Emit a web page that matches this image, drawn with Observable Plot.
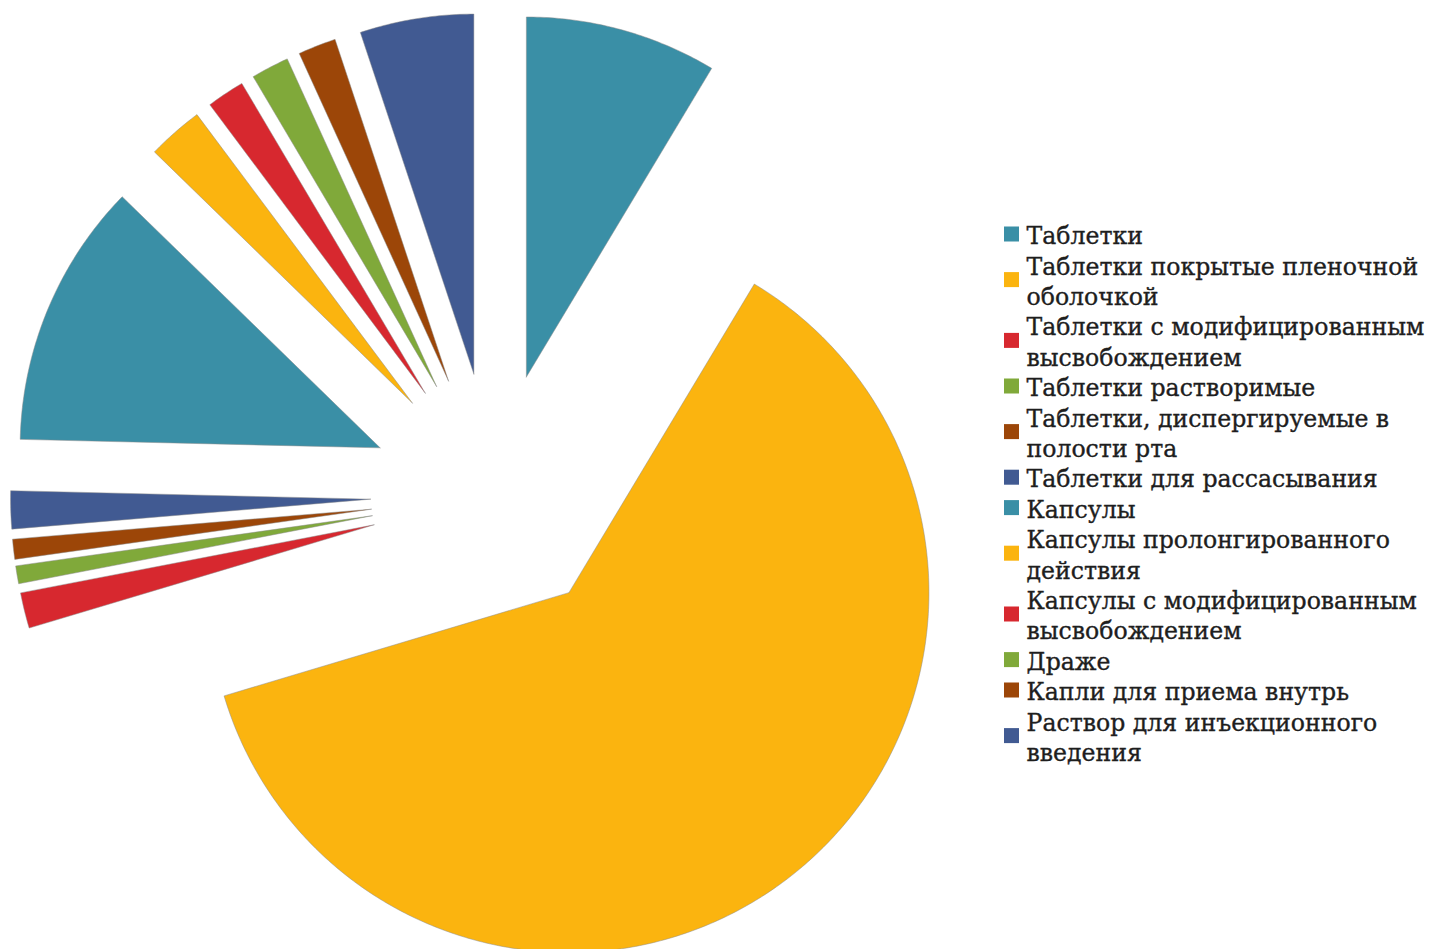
<!DOCTYPE html>
<html><head><meta charset="utf-8">
<script src="https://cdn.jsdelivr.net/npm/d3@7"></script>
<script src="https://cdn.jsdelivr.net/npm/@observablehq/plot@0.6"></script>
<style>body{margin:0;background:#fff}</style>
</head><body><div id="chart"></div>
<script>
const categories = [
  "Таблетки",
  "Таблетки покрытые пленочной оболочкой",
  "Таблетки с модифицированным высвобождением",
  "Таблетки растворимые",
  "Таблетки, диспергируемые в полости рта",
  "Таблетки для рассасывания",
  "Капсулы",
  "Капсулы пролонгированного действия",
  "Капсулы с модифицированным высвобождением",
  "Драже",
  "Капли для приема внутрь",
  "Раствор для инъекционного введения"
];
const legendLabels = [
  "Таблетки",
  "Таблетки покрытые пленочной\nоболочкой",
  "Таблетки с модифицированным\nвысвобождением",
  "Таблетки растворимые",
  "Таблетки, диспергируемые в\nполости рта",
  "Таблетки для рассасывания",
  "Капсулы",
  "Капсулы пролонгированного\nдействия",
  "Капсулы с модифицированным\nвысвобождением",
  "Драже",
  "Капли для приема внутрь",
  "Раствор для инъекционного\nвведения"
];
const values = [8.6, 61.7, 1.6, 0.8, 0.9, 1.7, 11.9, 2.5, 1.7, 1.7, 1.7, 5.1];
const colors = ["#3a8fa6", "#fbb40f", "#d7282f", "#80a93a", "#9c4608", "#415a92",
                "#3a8fa6", "#fbb40f", "#d7282f", "#80a93a", "#9c4608", "#415a92"];

const W = 1435, H = 949;
const cx = 493, cy = 495, R = 360, explode = 123;

const arcs = d3.pie().sort(null).value(d => d)(values);
const pts = [];
arcs.forEach((a, i) => {
  const m = (a.startAngle + a.endAngle) / 2;
  const tx = cx + explode * Math.sin(m), ty = cy - explode * Math.cos(m);
  pts.push({c: categories[i], x: tx, y: ty});
  const n = Math.max(8, Math.ceil((a.endAngle - a.startAngle) / 0.01));
  for (let j = 0; j <= n; j++) {
    const t = a.startAngle + (a.endAngle - a.startAngle) * j / n;
    pts.push({c: categories[i], x: tx + R * Math.sin(t), y: ty - R * Math.cos(t)});
  }
  pts.push({c: categories[i], x: tx, y: ty});
});

// legend layout
const rowTop = 234, rowH = 30.4;
let row = 0;
const legend = categories.map((c, i) => {
  const lines = legendLabels[i].split("\n").length;
  const yc = rowTop + rowH * (row + (lines - 1) / 2);
  row += lines;
  return {c, label: legendLabels[i], y: yc};
});
const fs = 23.6;

const chart = Plot.plot({
  width: W, height: H,
  margin: 0,
  x: {domain: [0, W], range: [0, W], axis: null},
  y: {domain: [0, H], range: [0, H], axis: null},
  color: {domain: categories, range: colors},
  style: {fontFamily: "'DejaVu Serif', serif", background: "#fff"},
  marks: [
    Plot.line(pts, {x: "x", y: "y", z: "c", fill: "c", stroke: "#8a8a8a", strokeWidth: 0.7, strokeOpacity: 0.7, curve: "linear"}),
    Plot.rect(legend, {x1: () => 1004, x2: () => 1019, y1: d => d.y - 7.5, y2: d => d.y + 7.5, fill: "c"}),
    Plot.text(legend, {x: () => 1026, y: "y", text: "label", textAnchor: "start", lineAnchor: "middle",
      fontSize: fs, lineHeight: rowH / fs, fill: "#1e1e1e", stroke: "#1e1e1e", strokeWidth: 0.35})
  ]
});
document.getElementById("chart").appendChild(chart);
</script>
</body></html>
